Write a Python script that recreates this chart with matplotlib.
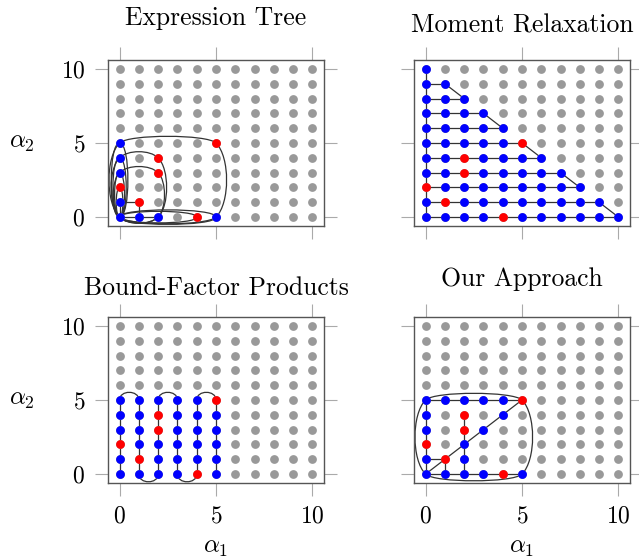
import numpy as np
import matplotlib
matplotlib.use("Agg")
import matplotlib.pyplot as plt
from matplotlib.path import Path
from matplotlib.patches import PathPatch

# 字体: Computer Modern
plt.rcParams["font.family"] = "serif"
plt.rcParams["font.serif"] = ["cmr10"]
plt.rcParams["mathtext.fontset"] = "cm"
plt.rcParams["axes.formatter.use_mathtext"] = True

# 共用数据
grid_max = 10
tick_vals = [0, 5, 10]
poly_terms = [(5, 5), (2, 4), (2, 3), (0, 2), (1, 1), (4, 0)]  # 红点
titles = ["Expression Tree", "Moment Relaxation", "Bound-Factor Products", "Our Approach"]

# Expression Tree
et_blue = [(0, 5), (0, 4), (0, 3), (0, 1), (0, 0), (1, 0), (2, 0), (5, 0)]
et_boxes = [(5, 5), (2, 4), (2, 3)]
et_col_loops = [2, 3, 4, 5]
et_row_loops = [4, 5]
et_segments = [((0, 0), (0, 1)), ((0, 1), (1, 1)), ((1, 1), (1, 0)),
               ((0, 0), (1, 0)), ((1, 0), (2, 0))]

# Moment Relaxation
mr_row_end = [10, 9, 8, 7, 6, 5, 4, 3, 2, 1, 0]  # 第 j 行: (0,j) .. (mr_row_end[j], j)
mr_diag_rows = [(9, 8), (7, 6), (5, 4), (3, 2), (1, 0)]

# Bound-Factor Products
bfp_size = 5
bfp_top_arcs = [(0, 1), (2, 3), (4, 5)]
bfp_bottom_arcs = [(1, 2), (3, 4)]

# Our Approach
oa_blue = [(0, 0), (1, 0), (2, 0), (3, 0), (5, 0), (0, 1), (0, 3), (0, 4), (0, 5),
           (1, 5), (2, 5), (3, 5), (4, 5), (2, 1), (2, 2), (3, 3), (4, 4)]
oa_segments = [((0, 0), (0, 5)), ((0, 5), (5, 5)), ((0, 0), (5, 0)), ((2, 0), (2, 4)),
               ((0, 0), (5, 5)), ((0, 1), (1, 1)), ((1, 1), (1, 0))]
oa_box = (5, 5)

GRAY = "#999999"
BLUE = "#0000ff"
RED = "#ff0000"
LINE = "#333333"
LW = 0.9
SX = 216 / 166  # x 单位比 y 单位宽


def cubic(ax, p, q, a_out, a_in, d_out, d_in):
    p0 = np.array([p[0] * SX, p[1]], float)
    p3 = np.array([q[0] * SX, q[1]], float)
    p1 = p0 + d_out * np.array([np.cos(np.radians(a_out)), np.sin(np.radians(a_out))])
    p2 = p3 + d_in * np.array([np.cos(np.radians(a_in)), np.sin(np.radians(a_in))])
    v = np.array([p0, p1, p2, p3])
    v[:, 0] /= SX
    path = Path(v, [Path.MOVETO, Path.CURVE4, Path.CURVE4, Path.CURVE4])
    ax.add_patch(PathPatch(path, fc="none", ec=LINE, lw=LW, zorder=2))


def box(ax, a, b):
    if a == 0:
        d = 0.15 * b
        cubic(ax, (0, 0), (0, b), 180, 180, d, d)
        cubic(ax, (0, b), (0, 0), 0, 0, d, d)
    elif b == 0:
        d = 0.1 * a * SX
        cubic(ax, (0, 0), (a, 0), 90, 90, d, d)
        cubic(ax, (a, 0), (0, 0), -90, -90, d, d)
    else:
        dv = 0.27 * b
        dh = min(0.85, 0.3 * a * SX)
        cubic(ax, (0, 0), (0, b), 135, 225, dv, dv)
        cubic(ax, (0, b), (a, b), 45, 135, dh, dh)
        cubic(ax, (a, b), (a, 0), -45, 45, dv, dv)
        cubic(ax, (a, 0), (0, 0), -135, -45, dh, dh)


def seg(ax, p, q):
    ax.plot([p[0], q[0]], [p[1], q[1]], color=LINE, lw=LW, zorder=2)


def dots(ax, pts, color):
    if pts:
        xs, ys = zip(*pts)
        ax.scatter(xs, ys, s=40, color=color, lw=0, zorder=3)


fig = plt.figure(figsize=(6.39, 5.58), dpi=100)
W, H = 639, 558
boxes_px = [(108, 60), (414, 60), (108, 317), (414, 317)]
axs = [fig.add_axes([x / W, (H - y - 166) / H, 216 / W, 166 / H]) for x, y in boxes_px]

all_pts = [(i, j) for i in range(grid_max + 1) for j in range(grid_max + 1)]
title_y = [1.21, 1.165, 1.135, 1.185]

for k, ax in enumerate(axs):
    ax.set_xlim(-0.6, 10.6)
    ax.set_ylim(-0.6, 10.6)
    ax.set_xticks(tick_vals)
    ax.set_yticks(tick_vals)
    ax.tick_params(direction="out", length=9.4, width=0.8, color="#aaaaaa",
                   top=True, right=True, labelsize=17, pad=7,
                   labelleft=(k % 2 == 0), labelbottom=(k >= 2))
    for s in ax.spines.values():
        s.set_color("#555555")
        s.set_linewidth(1.0)
    ax.set_title(titles[k], fontsize=18.5, y=title_y[k], pad=0)
    dots(ax, all_pts, GRAY)
    if k % 2 == 0:
        ax.set_ylabel(r"$\alpha_2$", fontsize=18, rotation=0, va="center", ha="center")
        ax.yaxis.set_label_coords(-0.40, 0.5)
    if k >= 2:
        ax.set_xlabel(r"$\alpha_1$", fontsize=18, va="center")
        ax.xaxis.set_label_coords(0.5, -0.39)

# Expression Tree
ax = axs[0]
for a, b in et_boxes:
    box(ax, a, b)
for b in et_col_loops:
    box(ax, 0, b)
for a in et_row_loops:
    box(ax, a, 0)
for p, q in et_segments:
    seg(ax, p, q)
dots(ax, et_blue, BLUE)
dots(ax, poly_terms, RED)

# Moment Relaxation
ax = axs[1]
seg(ax, (0, 0), (0, len(mr_row_end) - 1))
for j, e in enumerate(mr_row_end):
    if e > 0:
        seg(ax, (0, j), (e, j))
for r1, r2 in mr_diag_rows:
    seg(ax, (mr_row_end[r1], r1), (mr_row_end[r2], r2))
mr_pts = [(i, j) for j, e in enumerate(mr_row_end) for i in range(e + 1)]
dots(ax, [p for p in mr_pts if p not in poly_terms], BLUE)
dots(ax, poly_terms, RED)

# Bound-Factor Products
ax = axs[2]
for i in range(bfp_size + 1):
    seg(ax, (i, 0), (i, bfp_size))
for i, j in bfp_top_arcs:
    cubic(ax, (i, bfp_size), (j, bfp_size), 90, 90, 0.69, 0.69)
for i, j in bfp_bottom_arcs:
    cubic(ax, (i, 0), (j, 0), -90, -90, 0.69, 0.69)
bfp_pts = [(i, j) for i in range(bfp_size + 1) for j in range(bfp_size + 1)]
dots(ax, [p for p in bfp_pts if p not in poly_terms], BLUE)
dots(ax, poly_terms, RED)

# Our Approach
ax = axs[3]
box(ax, *oa_box)
for p, q in oa_segments:
    seg(ax, p, q)
dots(ax, oa_blue, BLUE)
dots(ax, poly_terms, RED)

fig.savefig("out.png", dpi=100)
